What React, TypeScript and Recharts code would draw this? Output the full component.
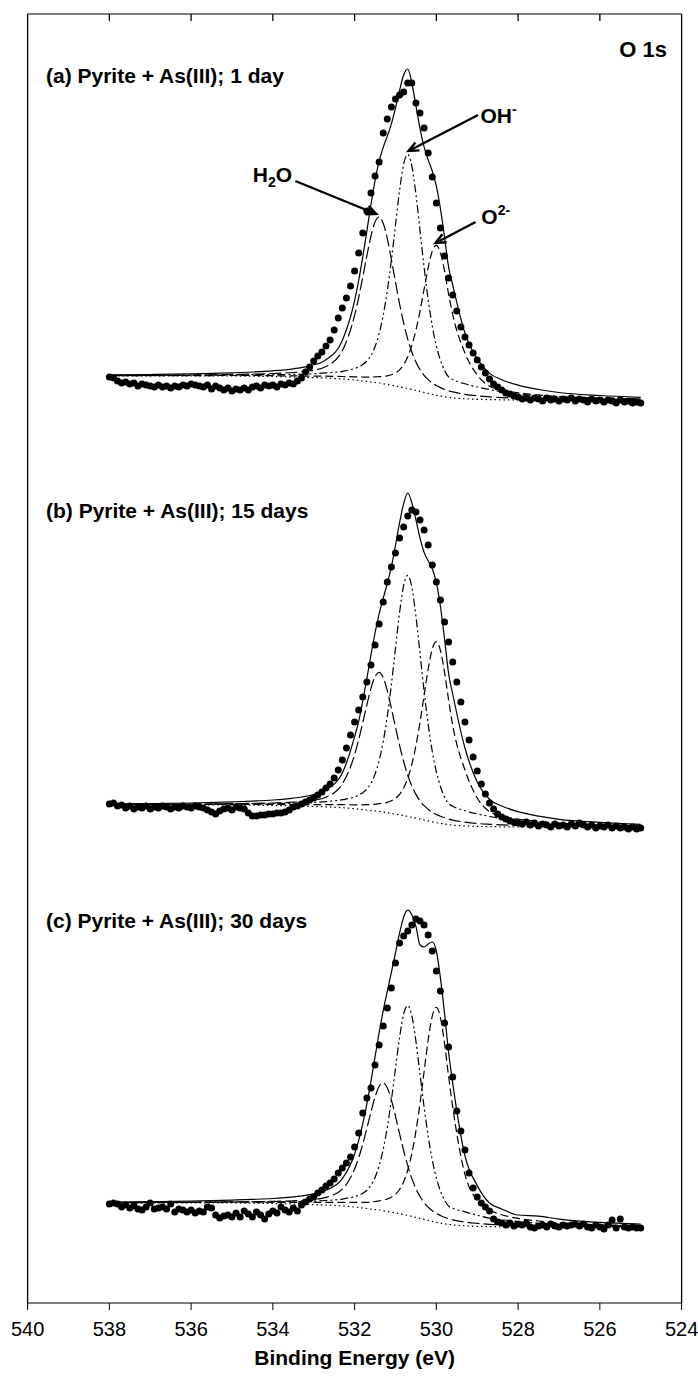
import React from 'react';
import { ComposedChart, Line, Scatter, XAxis, YAxis, ReferenceLine, ReferenceDot } from 'recharts';

// measured O 1s spectra, 0.1 eV steps
const dotEnergy = [
  538.0, 537.9, 537.8, 537.7, 537.6, 537.5, 537.4, 537.3, 537.2, 537.1,
  537.0, 536.9, 536.8, 536.7, 536.6, 536.5, 536.4, 536.3, 536.2, 536.1,
  536.0, 535.9, 535.8, 535.7, 535.6, 535.5, 535.4, 535.3, 535.2, 535.1,
  535.0, 534.9, 534.8, 534.7, 534.6, 534.5, 534.4, 534.3, 534.2, 534.1,
  534.0, 533.9, 533.8, 533.7, 533.6, 533.5, 533.4, 533.3, 533.2, 533.1,
  533.0, 532.9, 532.8, 532.7, 532.6, 532.5, 532.4, 532.3, 532.2, 532.1,
  532.0, 531.9, 531.8, 531.7, 531.6, 531.5, 531.4, 531.3, 531.2, 531.1,
  531.0, 530.9, 530.8, 530.7, 530.6, 530.5, 530.4, 530.3, 530.2, 530.1,
  530.0, 529.9, 529.8, 529.7, 529.6, 529.5, 529.4, 529.3, 529.2, 529.1,
  529.0, 528.9, 528.8, 528.7, 528.6, 528.5, 528.4, 528.3, 528.2, 528.1,
  528.0, 527.9, 527.8, 527.7, 527.6, 527.5, 527.4, 527.3, 527.2, 527.1,
  527.0, 526.9, 526.8, 526.7, 526.6, 526.5, 526.4, 526.3, 526.2, 526.1,
  526.0, 525.9, 525.8, 525.7, 525.6, 525.5, 525.4, 525.3, 525.2, 525.1,
  525.0,
];

const dotsA = [
  56, 55, 52, 50, 51, 49, 50, 47, 49, 48,
  47, 46, 48, 46, 47, 45, 47, 46, 48, 47,
  49, 48, 47, 46, 48, 44, 47, 45, 43, 45,
  42, 44, 43, 45, 43, 46, 47, 45, 48, 47,
  48, 46, 49, 48, 50, 49, 52, 55, 61, 66,
  72, 77, 81, 87, 93, 103, 115, 125, 135, 147,
  162, 180, 200, 222, 240, 257, 271, 300, 314, 326,
  334, 338, 341, 350, 350, 330, 320, 305, 280, 256,
  230, 205, 177, 155, 138, 122, 106, 96, 88, 80,
  73, 66, 60, 54, 49, 46, 43, 40, 39, 37,
  36, 34, 35, 33, 35, 34, 32, 35, 33, 34,
  32, 34, 33, 35, 32, 34, 33, 31, 34, 32,
  33, 31, 33, 32, 30, 33, 31, 32, 30, 31,
  30,
];

const dotsB = [
  46, 47, 44, 45, 42, 44, 41, 43, 42, 44,
  41, 43, 42, 44, 43, 41, 43, 42, 44, 43,
  42, 44, 43, 42, 40, 38, 36, 39, 41, 42,
  40, 43, 42, 41, 37, 34, 34, 35, 35, 36,
  36, 37, 37, 38, 40, 43, 44, 46, 48, 50,
  52, 55, 58, 62, 66, 72, 80, 90, 102, 115,
  128, 140, 153, 168, 185, 205, 226, 248, 268, 283,
  297, 312, 323, 334, 340, 338, 330, 320, 305, 285,
  268, 250, 228, 208, 188, 168, 148, 128, 110, 93,
  79, 66, 56, 47, 41, 36, 33, 31, 29, 28,
  27, 26, 28, 25, 27, 24, 26, 25, 23, 26,
  24, 25, 23, 26, 24, 27, 25, 23, 25, 22,
  24, 23, 25, 22, 24, 22, 23, 21, 23, 21,
  22,
];

const dotsC = [
  99, 100, 99, 96, 98, 95, 97, 94, 93, 96,
  100, 94, 95, 96, 94, 99, 91, 94, 93, 91,
  93, 90, 92, 91, 96, 95, 88, 85, 87, 88,
  86, 90, 86, 92, 89, 86, 91, 88, 84, 89,
  92, 90, 96, 93, 91, 95, 92, 98, 101, 104,
  106, 110, 113, 117, 120, 124, 130, 135, 140, 146,
  156, 170, 190, 205, 215, 238, 258, 277, 295, 315,
  340, 360, 367, 372, 378, 384, 382, 378, 368, 352,
  332, 312, 280, 256, 226, 192, 172, 153, 130, 115,
  106, 100, 96, 92, 84, 81, 80, 78, 80, 77,
  79, 78, 80, 76, 75, 77, 78, 76, 79, 77,
  76, 78, 77, 78, 79, 77, 79, 76, 75, 78,
  76, 74, 78, 83, 75, 84, 76, 75, 76, 75,
  75,
];

// fitted curves (background, H2O, OH-, O2-, envelope)
const fitEnergy = [
  538, 537, 536, 535, 534.5, 534, 533.5, 533.1, 532.7, 532.3,
  532, 531.9, 531.8, 531.7, 531.6, 531.5, 531.4, 531.3, 531.2, 531.1,
  531, 530.9, 530.8, 530.7, 530.6, 530.5, 530.4, 530.3, 530.2, 530.1,
  530, 529.9, 529.8, 529.7, 529.6, 529.3, 529, 528.7, 528.4, 528,
  527.5, 527, 526, 525,
];

const bgA = [57, 57, 57, 57, 56.8, 56.5, 56, 55.5, 55, 54, 53, 52.5, 52, 51.5, 51, 50.5, 50, 49.2, 48.5, 47.7, 47, 46.2, 45.4, 44.6, 43.6, 42.6, 41.6, 40.6, 39.6, 38.6, 37.7, 36.9, 36.2, 35.6, 35.1, 34.2, 33.7, 33.4, 33.2, 33, 33, 33, 33, 33];
const h2oA = [57.5, 57.7, 58.0, 58.6, 58.9, 59.5, 60.5, 62.1, 66.5, 82.4, 117.6, 135.5, 155.9, 177.2, 196.9, 211.0, 216, 209.7, 194.4, 173.4, 150.9, 129.2, 110.0, 93.9, 81.0, 71.0, 63.4, 57.7, 53.4, 50.1, 47.5, 45.4, 43.7, 42.2, 41.1, 38.7, 37.2, 36.2, 35.4, 34.8, 34.3, 34.1, 33.7, 33.5];
const ohA = [57.4, 57.5, 57.8, 58.1, 58.3, 58.4, 58.6, 59.1, 60.1, 61.7, 64.5, 66.1, 68.4, 71.9, 77.4, 86.3, 99.4, 117.8, 142.3, 172.9, 208.0, 242.5, 268.9, 278.6, 267.1, 238.9, 202.6, 165.8, 133.4, 107.2, 87.1, 72.7, 62.6, 56.0, 53.5, 49.2, 46.0, 43.5, 41.1, 38.8, 37.0, 36.0, 35.0, 34.2];
const o2A = [57.2, 57.3, 57.4, 57.5, 57.5, 57.3, 57.1, 56.9, 56.8, 56.5, 56.2, 56.1, 56.0, 55.9, 56.0, 56.1, 56.4, 56.6, 57.2, 58.2, 60.1, 63.2, 68.4, 76.3, 87.6, 102.8, 121.9, 143.8, 165.5, 181.9, 187.7, 180.2, 162.1, 138.8, 118.4, 80.0, 58.0, 46.8, 43.2, 40.2, 38.1, 36.5, 34.8, 34.0];
const envA = [58.1, 58.5, 59.1, 60.2, 61.0, 62.2, 64.2, 67.1, 73.3, 92.6, 132.3, 152.6, 176.2, 201.9, 228.3, 252.4, 271.8, 285.6, 296.9, 309.1, 325.0, 342.5, 358.0, 364.0, 350.0, 327.4, 304.6, 286.1, 273.1, 261.9, 246.9, 224.4, 195.9, 165.8, 148.0, 100.0, 74.0, 59.6, 53.3, 47.8, 43.5, 40.5, 37.5, 35.7];

const bgB = [45, 45, 45, 45, 44.8, 44.5, 44.1, 43.6, 43.2, 42.3, 41.3, 40.9, 40.4, 40.0, 39.5, 39.0, 38.6, 37.9, 37.2, 36.5, 35.8, 35.1, 34.4, 33.6, 32.7, 31.8, 30.9, 30.0, 29.1, 28.1, 27.3, 26.6, 25.9, 25.4, 24.9, 24.1, 23.6, 23.4, 23.2, 23, 23, 23, 23, 23];
const h2oB = [45.4, 45.6, 45.8, 46.3, 46.6, 47.0, 47.8, 49.2, 52.8, 66.1, 95.4, 110.4, 127.4, 145.2, 161.7, 173.4, 177.6, 172.3, 159.4, 141.7, 122.8, 104.6, 88.5, 74.9, 64.0, 55.6, 49.1, 44.3, 40.6, 37.7, 35.5, 33.7, 32.2, 31.0, 29.9, 27.9, 26.5, 25.7, 25.1, 24.5, 24.1, 23.9, 23.6, 23.4];
const ohB = [45.4, 45.6, 45.8, 46.2, 46.3, 46.5, 46.8, 47.3, 48.4, 50.3, 53.1, 54.9, 57.3, 61.0, 66.7, 75.9, 89.5, 108.5, 133.8, 165.4, 201.6, 237.3, 264.6, 274.6, 262.9, 234.0, 196.7, 158.9, 125.7, 98.7, 78.2, 63.5, 53.1, 46.4, 43.8, 39.3, 36.1, 33.6, 31.2, 28.9, 27.1, 26.1, 25.0, 24.2];
const o2B = [45.3, 45.3, 45.5, 45.7, 45.6, 45.5, 45.4, 45.3, 45.4, 45.3, 45.2, 45.2, 45.2, 45.3, 45.5, 45.7, 46.3, 46.8, 47.7, 49.2, 51.6, 55.6, 62.1, 71.8, 85.7, 104.4, 127.7, 154.5, 181.0, 201.0, 208.3, 199.5, 177.8, 149.9, 124.7, 80.0, 52.0, 38.3, 34.2, 30.9, 28.5, 26.8, 25.0, 24.2];
const envB = [46.1, 46.4, 47.0, 48.1, 48.9, 50.0, 51.9, 54.5, 60.2, 77.0, 113.3, 128.7, 149.1, 171.4, 194.9, 217.0, 236.1, 251.8, 266.5, 283.3, 304.4, 327.3, 346.4, 357.0, 347.2, 330.4, 311.8, 297.7, 289.2, 281.2, 267.4, 243.5, 211.3, 176.4, 156.0, 102.0, 68.0, 50.8, 44.0, 38.3, 33.8, 30.7, 27.6, 25.7];

const bgC = [100, 100, 100, 100, 99.8, 99.5, 99, 98.5, 98, 97, 96, 95.5, 95, 94.5, 94, 93.5, 93, 92.2, 91.5, 90.7, 90, 89.2, 88.4, 87.6, 86.6, 85.6, 84.6, 83.6, 82.6, 81.6, 80.7, 79.9, 79.2, 78.6, 78.1, 77.2, 76.7, 76.4, 76.2, 76, 76, 76, 76, 76];
const h2oC = [100.4, 100.5, 100.7, 101.2, 101.3, 101.6, 102.2, 103.1, 105.6, 113.8, 134.0, 145.3, 159.0, 174.6, 190.9, 206.0, 216.8, 220.2, 215.3, 203.2, 186.9, 169.3, 152.4, 137.4, 124.6, 114.4, 106.5, 100.4, 95.8, 92.2, 89.5, 87.5, 85.7, 84.4, 83.2, 80.9, 79.6, 78.7, 78.0, 77.4, 77.1, 76.9, 76.6, 76.4];
const ohC = [100.4, 100.5, 100.7, 101.0, 101.1, 101.2, 101.4, 101.7, 102.5, 103.9, 106.3, 107.7, 109.7, 112.8, 117.7, 125.6, 137.3, 153.7, 175.7, 203.1, 234.5, 265.4, 289.0, 297.6, 287.2, 261.8, 229.1, 196.0, 166.8, 143.1, 125.0, 112.0, 102.9, 96.9, 94.8, 91.1, 87.8, 84.9, 83.2, 81.5, 79.8, 78.9, 77.9, 77.1];
const o2C = [100.3, 100.4, 100.5, 100.8, 100.8, 100.7, 100.6, 100.5, 100.6, 100.6, 100.6, 100.6, 100.7, 100.7, 101.1, 101.5, 102.1, 102.7, 104.0, 105.8, 108.7, 113.5, 121.3, 133.0, 149.6, 171.8, 199.6, 231.5, 263.0, 286.9, 295.7, 285.2, 259.6, 226.5, 196.1, 128.6, 102.4, 92.9, 88.3, 84.6, 82.0, 80.1, 78.2, 77.3];
const envC = [101.0, 101.4, 101.9, 102.9, 103.6, 104.5, 106.1, 108.3, 112.7, 124.3, 149.0, 162.6, 179.4, 199.1, 221.7, 246.1, 270.3, 292.3, 312.0, 330.7, 350.1, 369.8, 385.9, 392.8, 388.2, 376.8, 358.0, 356.0, 359.0, 361.0, 352.0, 324.9, 289.9, 250.5, 219.9, 147.2, 117.4, 100.0, 94.0, 88.0, 86.9, 83.8, 80.6, 78.8];

const xTicks = [540, 538, 536, 534, 532, 530, 528, 526, 524];
const topTicks = [538, 536, 534, 532, 530, 528, 526];

const FONT = '"Liberation Sans", Arial, Helvetica, sans-serif';
const W = 698;
const H = 1387;
const LEFT = 27.6;
const RIGHT = 16.4;

const fitPoints = (vals: number[]) => fitEnergy.map((e, i) => ({ e, v: vals[i] }));
const dotPoints = (vals: number[]) => dotEnergy.map((e, i) => ({ e, v: vals[i] }));

function Arrow(props: any) {
  const { x1, y1, x2, y2 } = props;
  const ang = Math.atan2(y2 - y1, x2 - x1);
  const len = 11;
  const spread = 0.42;
  const ax = x2 - len * Math.cos(ang - spread);
  const ay = y2 - len * Math.sin(ang - spread);
  const bx = x2 - len * Math.cos(ang + spread);
  const by = y2 - len * Math.sin(ang + spread);
  return (
    <g>
      <line x1={x1} y1={y1} x2={x2} y2={y2} stroke="#000" strokeWidth={2.4} />
      <polyline points={`${ax},${ay} ${x2},${y2} ${bx},${by}`} fill="none" stroke="#000" strokeWidth={2.4} />
    </g>
  );
}

const textShape = (content: React.ReactNode, anchor: 'start' | 'end', size = 21) => (p: any) => (
  <text x={p.cx} y={p.cy} textAnchor={anchor} fontFamily={FONT} fontWeight="bold" fontSize={size} fill="#000">
    {content}
  </text>
);

const Dot = (p: any) => <circle cx={p.cx} cy={p.cy} r={3.5} fill="#000" />;

interface PanelProps {
  top: number;
  bottom: number;
  dots: number[];
  bg: number[];
  h2o: number[];
  oh: number[];
  o2: number[];
  env: number[];
  title: string;
  titleY: number;
  first?: boolean;
  last?: boolean;
  extra?: React.ReactNode;
}

function Panel({ top, bottom, dots, bg, h2o, oh, o2, env, title, titleY, first, last, extra }: PanelProps) {
  const yMax = bottom - top;
  const margin = { top, right: RIGHT, left: LEFT, bottom: last ? 0 : H - bottom };
  const line = { type: 'monotone' as const, dataKey: 'v', stroke: '#000', dot: false, activeDot: false, isAnimationActive: false, strokeWidth: 1.2 };
  return (
    <div style={{ position: 'absolute', left: 0, top: 0 }}>
      <ComposedChart width={W} height={H} margin={margin}>
        <XAxis
          dataKey="e"
          type="number"
          domain={[524, 540]}
          reversed
          ticks={xTicks}
          hide={!last}
          height={84}
          stroke="#000"
          tickSize={7}
          tickMargin={12}
          tick={{ fill: '#000', fontSize: 20, fontFamily: FONT }}
          label={{ value: 'Binding Energy (eV)', position: 'insideBottom', offset: 22, fill: '#000', style: { fontFamily: FONT, fontWeight: 'bold', fontSize: 21 } }}
        />
        <YAxis dataKey="v" type="number" domain={[0, yMax]} hide />
        <ReferenceLine x={540} stroke="#000" strokeWidth={1.3} />
        <ReferenceLine x={524} stroke="#000" strokeWidth={1.3} />
        {first && <ReferenceLine y={yMax} stroke="#000" strokeWidth={1.2} />}
        {first &&
          topTicks.map((t) => (
            <ReferenceLine key={`tt${t}`} segment={[{ x: t, y: yMax }, { x: t, y: yMax - 7 }]} stroke="#000" strokeWidth={1.3} />
          ))}
        <Line {...line} data={fitPoints(bg)} strokeDasharray="1.5 3" />
        <Line {...line} data={fitPoints(h2o)} strokeDasharray="12 4" />
        <Line {...line} data={fitPoints(oh)} strokeDasharray="8 3 2 3 2 3" />
        <Line {...line} data={fitPoints(o2)} strokeDasharray="8 4" />
        <Line {...line} data={fitPoints(env)} />
        <Scatter data={dotPoints(dots)} dataKey="v" shape={Dot} isAnimationActive={false} />
        <ReferenceDot x={539.55} y={titleY} r={0} shape={textShape(title, 'start')} />
        {extra}
      </ComposedChart>
    </div>
  );
}

export default function App() {
  const annotations = [
    <ReferenceDot key="o1s" x={524.36} y={376} r={0} shape={textShape('O 1s', 'end', 22)} />,
    <ReferenceLine key="a1" segment={[{ x: 533.45, y: 252 }, { x: 531.47, y: 219 }]} shape={Arrow} />,
    <ReferenceLine key="a2" segment={[{ x: 528.98, y: 318 }, { x: 530.68, y: 282 }]} shape={Arrow} />,
    <ReferenceLine key="a3" segment={[{ x: 529.04, y: 211 }, { x: 530.02, y: 190 }]} shape={Arrow} />,
    <ReferenceDot
      key="t1"
      x={533.53}
      y={251}
      r={0}
      shape={textShape(<>H<tspan dy={5} fontSize={14}>2</tspan><tspan dy={-5}>O</tspan></>, 'end')}
    />,
    <ReferenceDot key="t2" x={528.92} y={310} r={0} shape={textShape(<>OH<tspan dy={-9} fontSize={14}>-</tspan></>, 'start')} />,
    <ReferenceDot key="t3" x={528.9} y={209} r={0} shape={textShape(<>O<tspan dy={-9} fontSize={14}>2-</tspan></>, 'start')} />,
  ];

  return (
    <div style={{ position: 'absolute', left: 0, top: 0, width: W, height: H, background: '#fff' }}>
      <Panel top={14} bottom={433} dots={dotsA} bg={bgA} h2o={h2oA} oh={ohA} o2={o2A} env={envA}
        title="(a) Pyrite + As(III); 1 day" titleY={350} first extra={annotations} />
      <Panel top={433} bottom={850} dots={dotsB} bg={bgB} h2o={h2oB} oh={ohB} o2={o2B} env={envB}
        title="(b) Pyrite + As(III); 15 days" titleY={332} />
      <Panel top={850} bottom={1303} dots={dotsC} bg={bgC} h2o={h2oC} oh={ohC} o2={o2C} env={envC}
        title="(c) Pyrite + As(III); 30 days" titleY={375} last />
    </div>
  );
}
